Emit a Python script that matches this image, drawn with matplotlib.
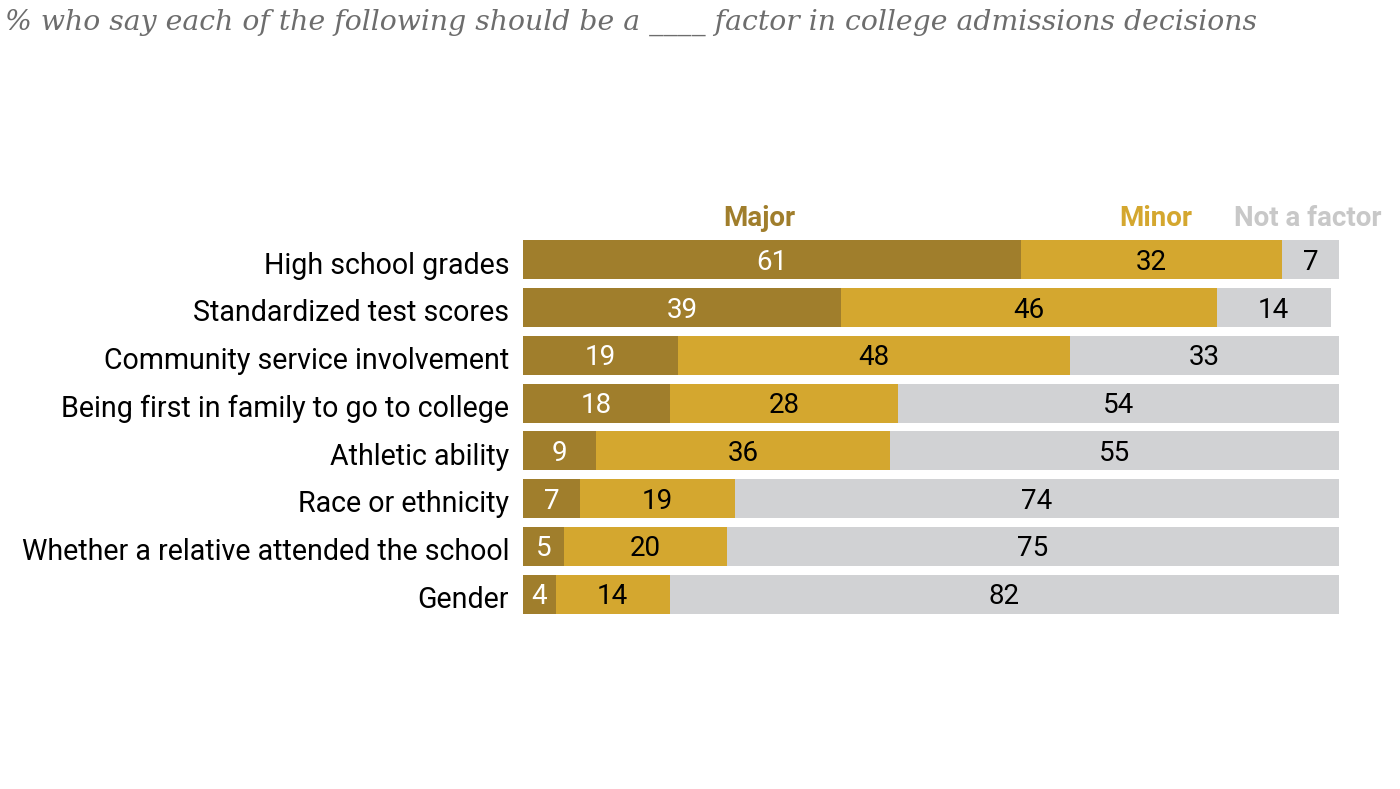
import matplotlib.pyplot as plt
import numpy as np

categories = ['High school grades', 'Standardized test scores', 'Community service involvement',
              'Being first in family to go to college', 'Athletic ability', 'Race or ethnicity',
              'Whether a relative attended the school', 'Gender']
major = [61, 39, 19, 18, 9, 7, 5, 4]
minor = [32, 46, 48, 28, 36, 19, 20, 14]
not_factor = [7, 14, 33, 54, 55, 74, 75, 82]

series_names = ['Major', 'Minor', 'Not a factor']
colors = ['#A07E2C', '#D4A72F', '#D1D2D4']
text_colors = ['white', 'black', 'black']
header_colors = ['#A07E2C', '#D4A72F', '#C8C8C8']

plt.rcParams['font.family'] = ['Roboto', 'DejaVu Sans']

fig = plt.figure(figsize=(14, 7.89), dpi=100)
ax = fig.add_axes([523 / 1400, 1 - 618 / 789, 816 / 1400, 382 / 789])

y = np.arange(len(categories))
left = np.zeros(len(categories))
for vals, col, tcol in zip([major, minor, not_factor], colors, text_colors):
    vals = np.array(vals, dtype=float)
    ax.barh(y, vals, left=left, height=0.82, color=col, edgecolor='none')
    for yi, l, v in zip(y, left, vals):
        ax.text(l + v / 2, yi + 0.05, f'{int(v)}', ha='center', va='center',
                fontsize=20, color=tcol)
    left += vals

# header labels above the first bar's segments
hx = [major[0] / 2 - 1.5, major[0] + minor[0] / 2 + 0.5, major[0] + minor[0] + not_factor[0] / 2 - 0.3]
for name, x, c in zip(series_names, hx, header_colors):
    ax.text(x, -0.86, name, ha='center', va='center', fontsize=20,
            fontweight='bold', color=c)

ax.set_xlim(0, 100)
ax.set_ylim(len(categories) - 0.5, -0.5)
ax.set_yticks(y + 0.06)
ax.set_yticklabels(categories, fontsize=20.6)
ax.tick_params(axis='y', length=0, pad=10)
ax.set_xticks([])
for s in ax.spines.values():
    s.set_visible(False)

fig.text(5 / 1400, 1 - 22 / 789,
         '% who say each of the following should be a ____ factor in college admissions decisions',
         ha='left', va='center', fontsize=20.3, style='italic', color='#6D6D6D',
         family='DejaVu Serif')

plt.savefig('out.png', dpi=100)
